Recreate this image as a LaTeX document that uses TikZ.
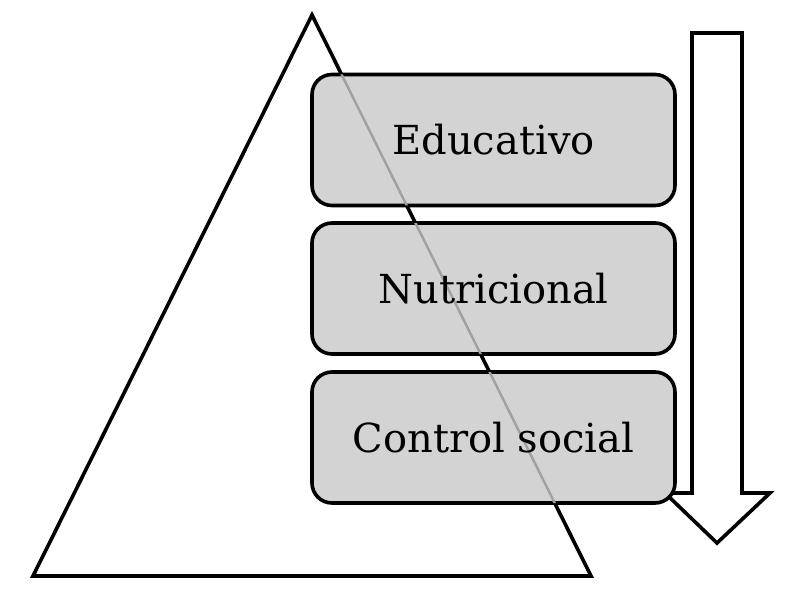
\documentclass[tikz,border=0pt]{standalone}
\usepackage{fontspec}
\setmainfont{DejaVu Serif}
\definecolor{boxgray}{HTML}{D3D3D3}
\definecolor{seegray}{HTML}{A0A0A0}
\tikzset{
  outline/.style={draw=black, line width=3.6pt, line join=miter},
  levelbox/.style={draw=black, line width=3.6pt, fill=boxgray, rounded corners=20pt,
    minimum width=363pt, minimum height=131pt, inner sep=0pt},
  leveltext/.style={font=\fontsize{40}{42}\selectfont, inner sep=0pt},
}
\begin{document}
\begin{tikzpicture}[x=1pt,y=-1pt]
\useasboundingbox (0,0) rectangle (800,596);
% triangle
\coordinate (apex) at (312,15);
\coordinate (bl) at (33,576);
\coordinate (br) at (591,576);
\draw[outline] (apex) -- (br) -- (bl) -- cycle;
% arrow
\coordinate (a1) at (692,33);
\coordinate (a2) at (742,33);
\coordinate (a3) at (742,493);
\coordinate (a4) at (770,493);
\coordinate (tip) at (717,543);
\coordinate (a6) at (665,493);
\coordinate (a7) at (692,493);
\draw[outline, fill=white] (a1) -- (a2) -- (a3) -- (a4) -- (tip) -- (a6) -- (a7) -- cycle;
% boxes
\node[levelbox] (edubox) at (493.5,140) {};
\node[levelbox] (nutbox) at (493.5,288.5) {};
\node[levelbox] (ctlbox) at (493.5,437.5) {};
% triangle edge seen through the boxes
\foreach \b in {edubox,nutbox,ctlbox}{
  \begin{scope}
    \clip[rounded corners=20pt] ([xshift=1.8pt,yshift=-1.8pt]\b.north west) rectangle ([xshift=-1.8pt,yshift=1.8pt]\b.south east);
    \draw[seegray, line width=2.4pt] (apex) -- (br);
  \end{scope}
}
\node[leveltext] (edu) at (edubox) {Educativo};
\node[leveltext] (nut) at (nutbox) {Nutricional};
\node[leveltext] (ctl) at (ctlbox) {Control social};
\end{tikzpicture}
\end{document}
